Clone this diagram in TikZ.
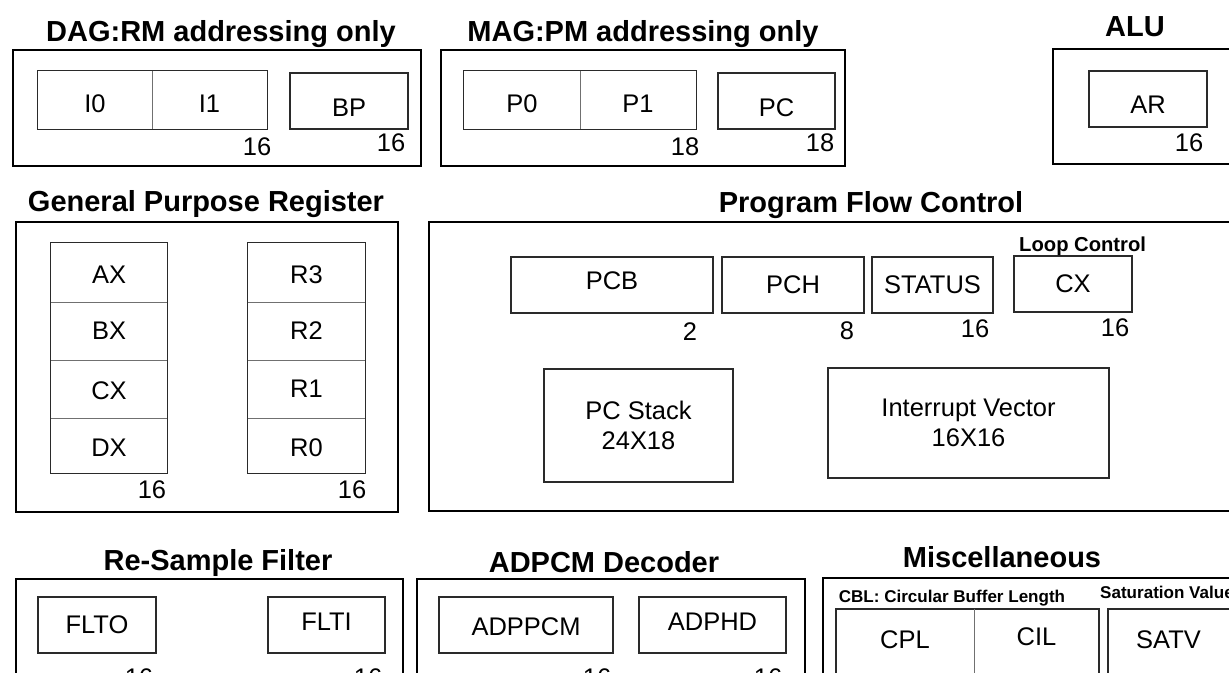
\documentclass[tikz,border=0pt]{standalone}
\usepackage{fontspec}
\setmainfont{Liberation Sans}
\usetikzlibrary{fit, positioning}
\definecolor{regLine}{HTML}{2A2A2A}
\definecolor{sepLine}{HTML}{707070}

\begin{document}
\begin{tikzpicture}[
    x=0.02cm, y=-0.02cm,
    frame/.style={rectangle, draw=black, line width=1.6pt, inner sep=0pt},
    reg/.style={rectangle, draw=regLine, line width=0.9pt, inner sep=0pt},
    cell/.style={rectangle, inner sep=0pt},
    regtext/.style={inner sep=0pt, align=center, font=\fontsize{14.5}{17}\selectfont},
    sep/.style={draw=sepLine, line width=0.9pt},
    ttl/.style={anchor=base, font=\bfseries\fontsize{16.5}{18}\selectfont},
    bits/.style={anchor=base, font=\fontsize{14.5}{16}\selectfont},
    note/.style={anchor=base, font=\bfseries\fontsize{9.7}{12}\selectfont},
]
\useasboundingbox (0,0) rectangle (1229,672);
\clip (0,0) rectangle (1229,672);

% DAG
\node[frame, fit={(13,50) (421,166)}] (dag) {};
\node[ttl] (dagT) at (221,42) {DAG:RM addressing only};
\node[cell, fit={(38,71) (152,129)}, label={[regtext, yshift=-2pt]center:I0}] (i0) {};
\node[cell, fit={(152,71) (267,129)}, label={[regtext, yshift=-2pt]center:I1}] (i1) {};
\node[reg, fit={(i0) (i1)}] (ipair) {};
\draw[sep] (i0.north east) -- (i0.south east);
\node[reg, fit={(290,73) (408,129)}, label={[regtext, yshift=-4pt]center:BP}] (bp) {};
\node[bits] (dagW1) at (257,155) {16};
\node[bits] (dagW2) at (391,152) {16};

% MAG
\node[frame, fit={(441,50) (845,166)}] (mag) {};
\node[ttl] (magT) at (643,42) {MAG:PM addressing only};
\node[cell, fit={(464,71) (580,129)}, label={[regtext, yshift=-2pt]center:P0}] (p0) {};
\node[cell, fit={(580,71) (696,129)}, label={[regtext, yshift=-2pt]center:P1}] (p1) {};
\node[reg, fit={(p0) (p1)}] (ppair) {};
\draw[sep] (p0.north east) -- (p0.south east);
\node[reg, fit={(718,73) (835,129)}, label={[regtext, yshift=-4pt]center:PC}] (pc) {};
\node[bits] (magW1) at (685,155) {18};
\node[bits] (magW2) at (820,152) {18};

% ALU
\node[frame, fit={(1053,49) (1260,164)}] (alu) {};
\node[ttl] (aluT) at (1135,37) {ALU};
\node[reg, fit={(1089,71) (1207,127)}, label={[regtext, yshift=-3pt]center:AR}] (ar) {};
\node[bits] (aluW) at (1189,152) {16};

% General purpose registers
\node[frame, fit={(16,222) (398,512)}] (gpr) {};
\node[ttl] (gprT) at (206,212) {General Purpose Register};
\node[cell, fit={(51,243) (167,302)}, label={[regtext, yshift=-1pt]center:AX}] (ax) {};
\node[cell, fit={(51,302) (167,360)}, label={[regtext]center:BX}] (bx) {};
\node[cell, fit={(51,360) (167,418)}, label={[regtext, yshift=-1pt]center:CX}] (cx) {};
\node[cell, fit={(51,418) (167,473)}, label={[regtext, yshift=-1pt]center:DX}] (dx) {};
\node[reg, fit={(ax) (dx)}] (xcol) {};
\draw[sep] (ax.south west) -- (ax.south east);
\draw[sep] (bx.south west) -- (bx.south east);
\draw[sep] (cx.south west) -- (cx.south east);
\node[cell, fit={(248,243) (365,302)}, label={[regtext, yshift=-1pt]center:R3}] (r3) {};
\node[cell, fit={(248,302) (365,360)}, label={[regtext]center:R2}] (r2) {};
\node[cell, fit={(248,360) (365,418)}, label={[regtext]center:R1}] (r1) {};
\node[cell, fit={(248,418) (365,473)}, label={[regtext, yshift=-1pt]center:R0}] (r0) {};
\node[reg, fit={(r3) (r0)}] (rcol) {};
\draw[sep] (r3.south west) -- (r3.south east);
\draw[sep] (r2.south west) -- (r2.south east);
\draw[sep] (r1.south west) -- (r1.south east);
\node[bits] (gprW1) at (152,498) {16};
\node[bits] (gprW2) at (352,498) {16};

% Program flow control
\node[frame, fit={(429,222) (1260,511)}] (pfc) {};
\node[ttl] (pfcT) at (871,213) {Program Flow Control};
\node[reg, fit={(511,257) (713,313)}, label={[regtext, yshift=2.5pt]center:PCB}] (pcb) {};
\node[reg, fit={(722,257) (864,313)}, label={[regtext]center:PCH}] (pch) {};
\node[reg, fit={(872,257) (993,313)}, label={[regtext]center:STATUS}] (status) {};
\node[reg, fit={(1014,256) (1132,312)}, label={[regtext]center:CX}] (loopcx) {};
\node[note, anchor=base west, font=\bfseries\fontsize{11.5}{13}\selectfont] (loopT) at (1013,251) {Loop Control};
\node[bits] (pcbW) at (690,340) {2};
\node[bits] (pchW) at (847,339) {8};
\node[bits] (statusW) at (975,337) {16};
\node[bits] (loopW) at (1115,336) {16};
\node[reg, fit={(544,369) (733,482)}, label={[regtext]center:PC Stack\\24X18}] (pcstack) {};
\node[reg, fit={(828,368) (1109,478)}, label={[regtext]center:Interrupt Vector\\16X16}] (intvec) {};

% Re-sample filter
\node[frame, fit={(16,579) (403,700)}] (rsf) {};
\node[ttl] (rsfT) at (218,570) {Re-Sample Filter};
\node[reg, fit={(38,597) (156,653)}, label={[regtext]center:FLTO}] (flto) {};
\node[reg, fit={(268,597) (385,653)}, label={[regtext, yshift=2pt]center:FLTI}] (flti) {};
\node[bits] (fltoW) at (139,686) {16};
\node[bits] (fltiW) at (368,686) {16};

% ADPCM decoder
\node[frame, fit={(417,579) (805,700)}] (adpcm) {};
\node[ttl] (adpcmT) at (604,572) {ADPCM Decoder};
\node[reg, fit={(439,597) (613,653)}, label={[regtext, yshift=-1pt]center:ADPPCM}] (adppcm) {};
\node[reg, fit={(639,597) (786,653)}, label={[regtext, yshift=2pt]center:ADPHD}] (adphd) {};
\node[bits] (adppcmW) at (597,686) {16};
\node[bits] (adphdW) at (768,686) {16};

% Miscellaneous
\node[frame, fit={(823,578) (1260,700)}] (misc) {};
\node[ttl] (miscT) at (1002,567) {Miscellaneous};
\node[note] (cblT) at (952,602) {CBL: Circular Buffer Length};
\node[note, anchor=base west] (satT) at (1094,598) {Saturation Value};
\node[cell, fit={(836,609) (974,671)}, label={[regtext]center:CPL}] (cpl) {};
\node[cell, fit={(974,609) (1099,665)}, label={[regtext]center:CIL}] (cil) {};
\node[reg, fit={(836,609) (1099,720)}] (cbl) {};
\draw[sep] (cpl.north east) -- (cbl.south -| cpl.east);
\node[cell, fit={(1108,609) (1229,671)}, label={[regtext]center:SATV}] (satv) {};
\node[reg, fit={(1108,609) (1260,720)}] (satbox) {};

\end{tikzpicture}
\end{document}
